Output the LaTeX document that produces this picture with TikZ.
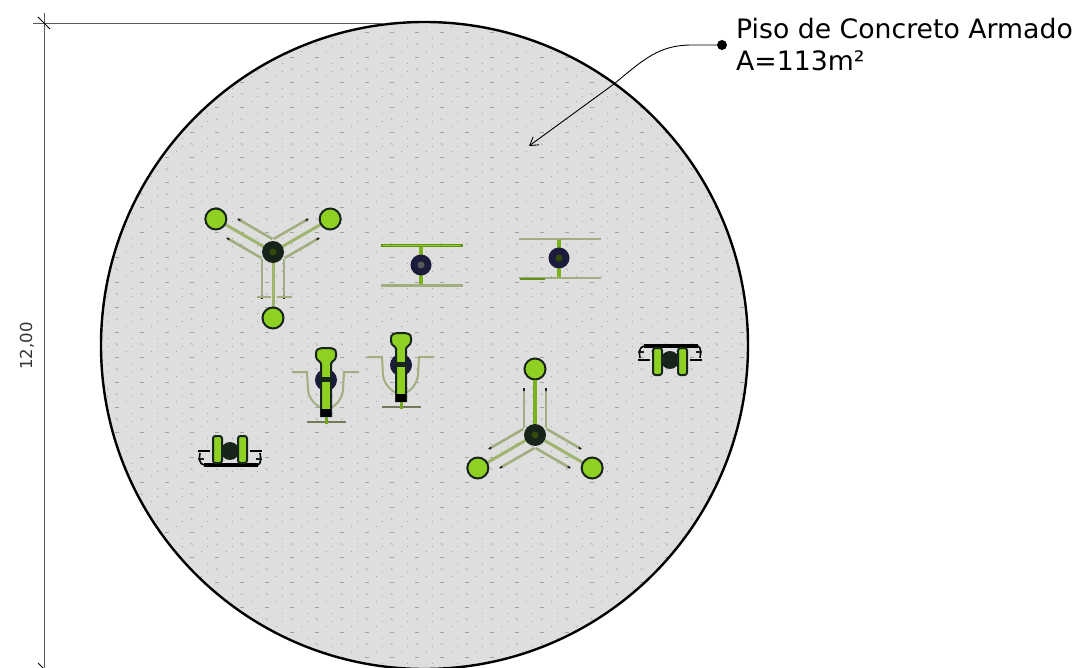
\documentclass[tikz,border=0pt]{standalone}
\usepackage{fontspec}
\setmainfont{DejaVu Sans}
\usetikzlibrary{arrows.meta}
\definecolor{piso}{HTML}{DEDEDE}
\definecolor{verde}{HTML}{8FD122}
\definecolor{palido}{HTML}{A0AE80}
\definecolor{oscuro}{HTML}{16241A}
\definecolor{azul}{HTML}{1B1B3C}
\tikzset{
    ball/.style={circle,draw=oscuro,fill=verde,line width=2,minimum size=21,inner sep=0},
    hub/.style={circle,fill=oscuro,minimum size=22,inner sep=0},
    hubblue/.style={circle,fill=azul,minimum size=21,inner sep=0},
    core/.style={circle,fill=black!65,minimum size=7,inner sep=0},
    rail/.style={draw=palido,line width=2.6},
    thinrail/.style={draw=palido,line width=2},
    stem/.style={draw=verde!85!black,line width=4.5},
    bar/.style={draw=verde!70!black,line width=3.6},
    dim/.style={draw=black!65,line width=0.7},
    tick/.style={draw=black,line width=0.8},
    grain/.style={draw=black!36,line width=0.45},
    pics/arm/.style={code={
        \draw[rail] (-11,-7) -- (-11,-46);
        \draw[rail] (11,-7) -- (11,-46);
        \draw[draw=palido!80!verde,line width=3] (0,-8) -- (0,-56);
        \fill[oscuro] (-11.8,-47) rectangle (-10.2,-44) (10.2,-47) rectangle (11.8,-44);
        \node[ball] at (0,-66) {};
    }},
    pics/tri/.style={code={
        \foreach \ang in {0,120,240}{
            \pic[rotate=#1+\ang] {arm};
        }
        \node[hub] at (0,0) {};
        \node[core,fill=verde!35!black] at (0,0) {};
    }},
    pics/bike/.style={code={
        \draw[thinrail] (-34,-8) -- (-19,-8) -- (-18,10) .. controls (-17,20) and (-9,26) .. (-3,29);
        \draw[thinrail] (33,-8) -- (18,-8) -- (17,10) .. controls (16,20) and (9,26) .. (3,29);
        \draw[thinrail,draw=palido!70!black] (-19,42) -- (20,42);
        \node[hubblue,minimum size=22] at (0,0) {};
        \draw[draw=oscuro,fill=verde,line width=2] (-5,36) -- (-5,-16) .. controls (-5,-19) and (-10,-19) .. (-10,-24) -- (-10,-27) .. controls (-10,-31) and (-7,-32) .. (0,-32) .. controls (7,-32) and (10,-31) .. (10,-27) -- (10,-24) .. controls (10,-19) and (5,-19) .. (5,-16) -- (5,36) -- cycle;
        \fill[oscuro] (-6,-3) rectangle (6,2);
        \fill[black] (-5,29) rectangle (5,37);
        \draw[draw=verde!80!black,line width=3] (0,37) -- (0,44);
    }},
    pics/twin/.style={code={
        \draw[draw=black,line width=3.4] (-26,-15) -- (28,-15);
        \draw[draw=black,line width=1.6] (-26,-15) .. controls (-31,-14) and (-31,-8) .. (-30,-3);
        \draw[draw=black,line width=1.6] (28,-15) .. controls (31,-14) and (31,-8) .. (30,-3);
        \draw[draw=black,line width=2.6] (-32,-1) -- (-20,-1);
        \draw[draw=black,line width=2.6] (20,-1) -- (32,-1);
        \draw[draw=oscuro,line width=2.2] (-32,-9) -- (-26,-9) (26,-9) -- (32,-9);
        \node[hub,minimum size=18] at (0,-1) {};
        \draw[draw=oscuro,fill=verde,line width=2,rounded corners=2.5] (-17,-13) rectangle (-8,14);
        \draw[draw=oscuro,fill=verde,line width=2,rounded corners=2.5] (8,-13) rectangle (17,14);
    }}
    }

\begin{document}
\begin{tikzpicture}[x=1pt,y=-1pt]
    \useasboundingbox (0,0) rectangle (1079,668);
    % The floor
    \fill[piso] (424.5,345.5) circle (323.5);
    \begin{scope}
        \clip (424.5,345.5) circle (323.5);
        \foreach \row in {0,...,26}{
            \foreach \col in {0,...,26}{
                \pgfmathsetmacro{\gx}{91.7+\col*25}
                \pgfmathsetmacro{\gy}{7.7+\row*25}
                \draw[grain] (\gx-2,\gy) -- ++(4,0);
                \draw[grain] (\gx+15.5,\gy+6) -- ++(1,0);
                \draw[grain] (\gx-1,\gy+10.5) -- ++(2,2);
                \draw[grain] (\gx+15.5,\gy+14) -- ++(1,0);
                \draw[grain] (\gx+9.5,\gy+19) -- ++(1,0);
            }
        }
    \end{scope}
    \draw[line width=2.4] (424.5,345.5) circle (323.5);
    % The dimension
    \coordinate (dimtop) at (44,13);
    \coordinate (dimbottom) at (44,668);
    \coordinate (dimleft) at (33,23);
    \coordinate (dimright) at (385,23);
    \draw[dim] (dimtop) -- (dimbottom);
    \draw[dim] (dimleft) -- (dimright);
    \draw[tick] (38,17) -- (50,29);
    \draw[tick] (38,663) -- (44,669);
    \node(dimtext)[rotate=90,font=\fontsize{16.5}{18}\selectfont,text=black!80,inner sep=0] at (27,346) {12,00};
    % The equipment
    \pic at (273,252) {tri=180};
    \draw[rail] (257,297) -- (271,297);
    \draw[rail] (277,297) -- (292,297);
    \pic at (535,435) {tri=0};
    \draw[stem,line width=3.6] (535,380) -- (535,424);
    \pic at (326,380) {bike};
    \pic at (401,365) {bike};
    \pic at (670,361) {twin};
    \pic[yscale=-1] at (230,450) {twin};
    % The bars
    \draw[stem] (421,245.5) -- (421,285.5);
    \draw[bar] (381,245.5) -- (463,245.5);
    \draw[draw=verde,line width=1.4] (383,245.5) -- (460,245.5);
    \draw[rail] (381,285.5) -- (463,285.5);
    \node[hubblue] at (421,265) {};
    \node[core] at (421,265) {};
    \draw[stem] (559,239) -- (559,278);
    \draw[rail] (519,239) -- (601,239);
    \draw[rail] (519,278) -- (601,278);
    \draw[draw=verde!70!black,line width=2.4] (520,279) -- (545,279);
    \node[hubblue] at (559,258) {};
    \node[core,fill=verde!35!black] at (559,258) {};
    % The label
    \node(labelpiso)[anchor=north west,align=left,inner sep=0,font=\fontsize{26.7}{32}\selectfont] at (736,18) {Piso de Concreto Armado\\A=113m²};
    \node(dot)[circle,fill=black,minimum size=10,inner sep=0] at (722,45) {};
    \coordinate (target) at (529,146);
    \draw[-{Straight Barb[length=8,width=10]},line width=0.9] (dot.center) -- (692,45) .. controls (660,45) and (645,58) .. (614,84) -- (target);
\end{tikzpicture}
\end{document}
